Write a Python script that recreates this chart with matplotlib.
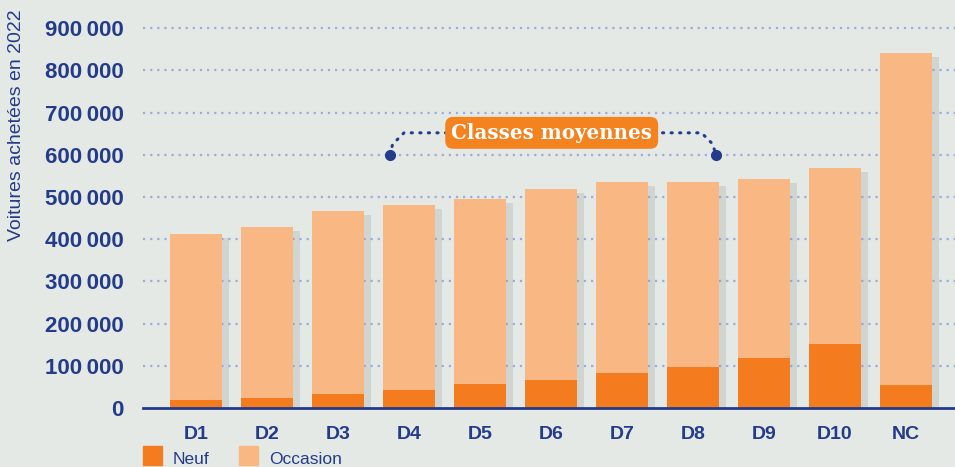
import matplotlib.pyplot as plt
import matplotlib.patheffects as pe
from matplotlib.patches import Rectangle
import numpy as np

categories = ["D1", "D2", "D3", "D4", "D5", "D6", "D7", "D8", "D9", "D10", "NC"]
totals = [412000, 429000, 467000, 481000, 495000, 519000, 536000, 536000, 543000, 569000, 841000]
neuf = [19000, 24000, 33000, 43000, 57000, 66000, 83000, 97000, 118000, 152000, 55000]
yticks = [0, 100000, 200000, 300000, 400000, 500000, 600000, 700000, 800000, 900000]

bg = "#e4e9e5"
navy = "#243b8b"
c_neuf = "#f47b1e"
c_occ = "#f9b784"
c_grid = "#9eacdc"

fig = plt.figure(figsize=(9.55, 4.67), dpi=100)
fig.patch.set_facecolor(bg)
ax = fig.add_axes([143 / 955, 1 - 408 / 467, 1 - 143 / 955, (408 - 15.5) / 467])
ax.set_facecolor(bg)

x = np.arange(len(categories))
shadow = [pe.SimplePatchShadow(offset=(5, -3), shadow_rgbFace="#8a908c", alpha=0.22), pe.Normal()]
ax.bar(x, totals, width=0.73, color=c_occ, zorder=3, path_effects=shadow)
ax.bar(x, neuf, width=0.73, color=c_neuf, zorder=4)

for t in yticks[1:]:
    ax.axhline(t, color=c_grid, lw=1.6, ls=(0, (1, 2.2)), zorder=1)

ax.set_xlim(-0.746, 10.69)
ax.set_ylim(0, 930000)
ax.set_xticks(x)
ax.set_xticklabels(categories, fontsize=14, fontweight="bold", color=navy, family="Liberation Sans")
ax.set_yticks(yticks)
ax.set_yticklabels([f"{t:,}".replace(",", "\u2009") for t in yticks], fontsize=16,
                   fontweight="bold", color=navy, family="Liberation Sans")
ax.tick_params(axis="x", length=0, pad=13)
ax.tick_params(axis="y", length=0, pad=14)
for s in ["left", "right", "top"]:
    ax.spines[s].set_visible(False)
ax.spines["bottom"].set_color(navy)
ax.spines["bottom"].set_linewidth(2)
ax.spines["bottom"].set_zorder(5)

fig.text(17 / 955, 1 - 125 / 467, "Voitures achetées en 2022", rotation=90, ha="center", va="center",
         fontsize=14, color=navy, family="Liberation Sans")

# Classes moyennes bracket
xl, xr = 2.73, 7.32
ybr = 652000
ax.plot([xl, xl + 0.04, xl + 0.2, 3.6], [600000, 625000, ybr, ybr], color=navy, lw=2.2,
        ls=(0, (0.4, 2.4)), dash_capstyle="round", zorder=6)
ax.plot([6.45, xr - 0.2, xr - 0.04, xr], [ybr, ybr, 625000, 600000], color=navy, lw=2.2,
        ls=(0, (0.4, 2.4)), dash_capstyle="round", zorder=6)
ax.plot([xl, xr], [600000, 600000], "o", color=navy, ms=7, zorder=7)
ax.text(5.01, ybr, "Classes moyennes", ha="center", va="center", fontsize=14.3, fontweight="bold",
        color="white", family="DejaVu Serif", zorder=8,
        bbox=dict(boxstyle="round,pad=0.3,rounding_size=0.4", fc="#f4821f", ec="none"))

# legend
fig.patches.append(Rectangle((143 / 955, 1 - 465 / 467), 19 / 955, 19 / 467, transform=fig.transFigure,
                             color=c_neuf, figure=fig))
fig.text(173 / 955, 1 - 459 / 467, "Neuf", fontsize=12.5, color=navy, va="center", family="Liberation Sans")
fig.patches.append(Rectangle((239 / 955, 1 - 465 / 467), 19 / 955, 19 / 467, transform=fig.transFigure,
                             color=c_occ, figure=fig))
fig.text(269 / 955, 1 - 459 / 467, "Occasion", fontsize=12.5, color=navy, va="center", family="Liberation Sans")

fig.savefig("out.png", dpi=100, facecolor=bg)
